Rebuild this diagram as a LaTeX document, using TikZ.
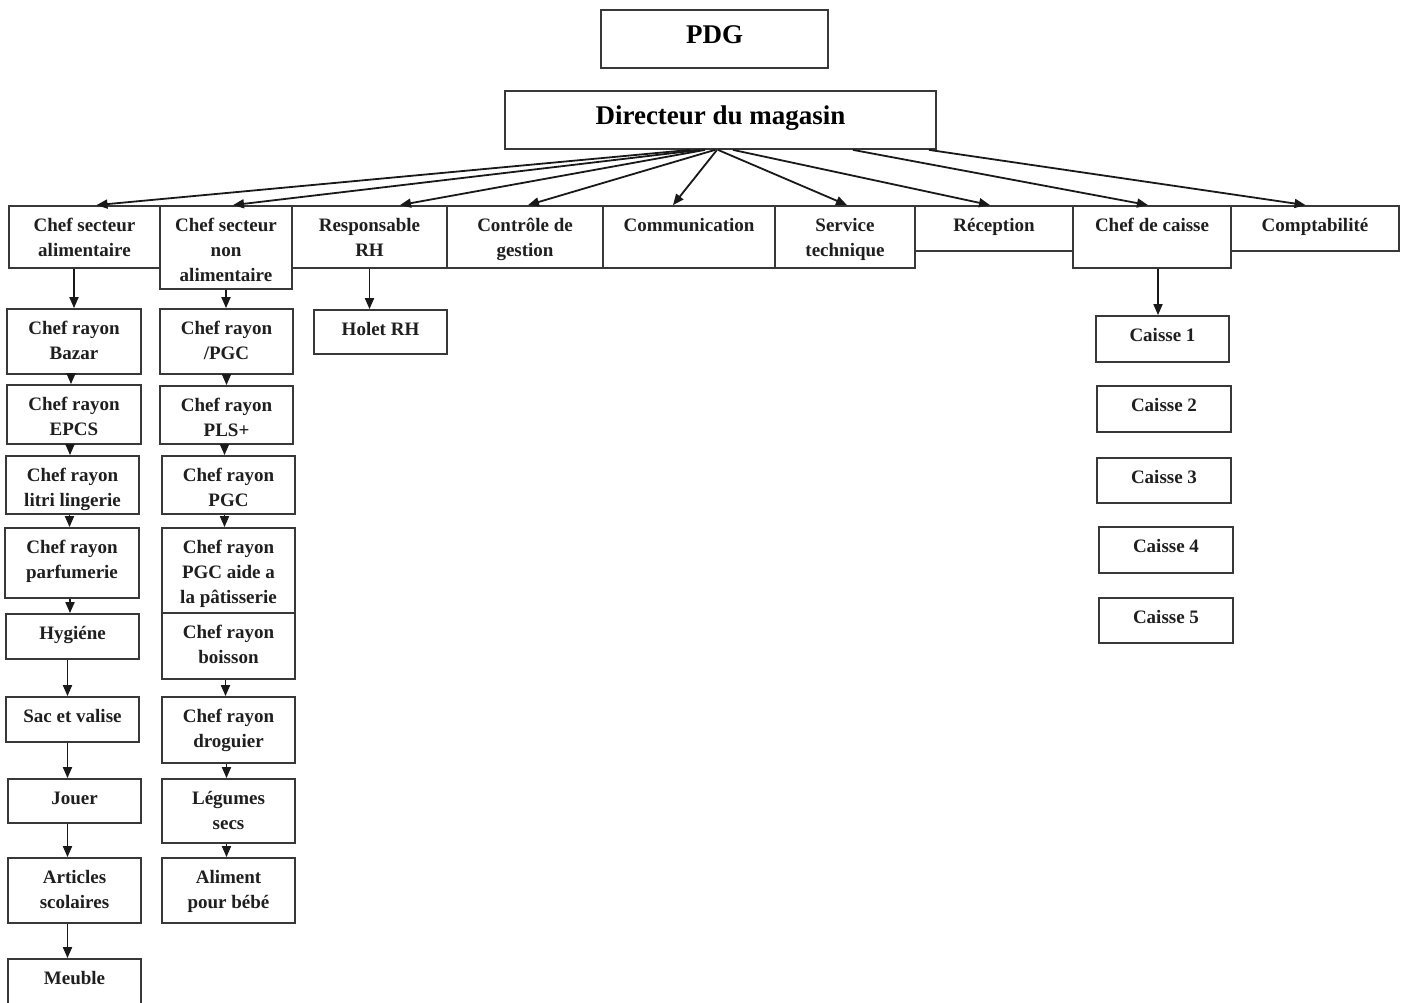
\documentclass[tikz,border=0pt]{standalone}
\usepackage{fontspec}
\setmainfont{Liberation Serif}
\usetikzlibrary{arrows.meta,fit}

\tikzset{
  boxst/.style={draw=black!78, line width=1.8pt, inner sep=0pt},
  lblst/.style={inner sep=0pt, align=center, text=black!88,
    font=\fontsize{19}{25}\selectfont\bfseries},
  bigst/.style={inner sep=0pt, align=center, text=black,
    font=\fontsize{27}{32}\selectfont\bfseries},
  arr/.style={draw=black!90, line width=1.8pt,
    -{Triangle[length=11pt,width=9pt]}},
}

% box from (x1,y1) to (x2,y2), text hanging from its top edge
\newcommand\orgbox[6]{%
  \node[boxst, fit={(#2,#3) (#4,#5)}] (#1) {};
  \node[lblst, anchor=north] (#1-t) at ([yshift=-11.5pt]#1.north) {\rule{0pt}{15pt}#6};
}
\newcommand\bigbox[6]{%
  \node[boxst, fit={(#2,#3) (#4,#5)}] (#1) {};
  \node[bigst, anchor=north] (#1-t) at ([yshift=-12pt]#1.north) {\rule{0pt}{22pt}#6};
}
% vertical arrow from the bottom of #2 down to the top of #3
\newcommand\downarr[3][0pt]{%
  \draw[arr] ([xshift=#1]#2.south) -- ([xshift=#1]#2.south |- #3.north);
}

\begin{document}
\begin{tikzpicture}[x=1pt, y=-1pt]
\clip (0,0) rectangle (1408,1003);
\fill[white] (0,0) rectangle (1408,1003);

% top management
\bigbox{pdg}{601}{10}{828}{68}{PDG}
\bigbox{dir}{505}{91}{936}{149}{Directeur du magasin}

% departments
\orgbox{alim}{9}{206}{160}{268}{Chef secteur\\alimentaire}
\orgbox{nonalim}{160}{206}{292}{289}{Chef secteur\\non\\alimentaire}
\orgbox{rh}{292}{206}{447}{268}{Responsable\\RH}
\orgbox{ctrl}{447}{206}{603}{268}{Contrôle de\\gestion}
\orgbox{comm}{603}{206}{775}{268}{Communication}
\orgbox{tech}{775}{206}{915}{268}{Service\\technique}
\orgbox{recep}{915}{206}{1073}{251}{Réception}
\orgbox{caisse}{1073}{206}{1231}{268}{Chef de caisse}
\orgbox{compta}{1231}{206}{1399}{251}{Comptabilité}

% food sector
\orgbox{bazar}{7}{309}{141}{374}{Chef rayon\\Bazar}
\orgbox{epcs}{7}{385}{141}{444}{Chef rayon\\EPCS}
\orgbox{litri}{6}{456}{139}{514}{Chef rayon\\litri lingerie}
\orgbox{parf}{5}{528}{139}{598}{Chef rayon\\parfumerie}
\orgbox{hyg}{6}{614}{139}{659}{Hygiéne}
\orgbox{sac}{6}{697}{139}{742}{Sac et valise}
\orgbox{jouer}{8}{779}{141}{823}{Jouer}
\orgbox{art}{8}{858}{141}{923}{Articles\\scolaires}
\orgbox{meuble}{8}{959}{141}{1012}{Meuble}

% non-food sector
\orgbox{pgca}{160}{309}{293}{374}{Chef rayon\\/PGC}
\orgbox{pls}{160}{386}{293}{444}{Chef rayon\\PLS+}
\orgbox{pgc}{162}{456}{295}{514}{Chef rayon\\PGC}
\orgbox{pat}{162}{528}{295}{613}{Chef rayon\\PGC aide a\\la pâtisserie}
\orgbox{boisson}{162}{613}{295}{679}{Chef rayon\\boisson}
\orgbox{drog}{162}{697}{295}{763}{Chef rayon\\droguier}
\orgbox{leg}{162}{779}{295}{843}{Légumes\\secs}
\orgbox{bebe}{162}{858}{295}{923}{Aliment\\pour bébé}

% human resources
\orgbox{holet}{314}{310}{447}{354}{Holet RH}

% checkouts
\orgbox{c1}{1096}{316}{1229}{362}{Caisse 1}
\orgbox{c2}{1097}{386}{1231}{432}{Caisse 2}
\orgbox{c3}{1097}{458}{1231}{503}{Caisse 3}
\orgbox{c4}{1099}{527}{1233}{573}{Caisse 4}
\orgbox{c5}{1099}{598}{1233}{643}{Caisse 5}

% store director to departments
\draw[arr] ([xshift=-30.5pt]dir.south) -- ([xshift=12pt]alim.north);
\draw[arr] ([xshift=-20.5pt]dir.south) -- ([xshift=7pt]nonalim.north);
\draw[arr] ([xshift=-15.5pt]dir.south) -- ([xshift=30.5pt]rh.north);
\draw[arr] ([xshift=-5.5pt]dir.south) -- ([xshift=3pt]ctrl.north);
\draw[arr] ([xshift=-3.5pt]dir.south) -- ([xshift=-16pt]comm.north);
\draw[arr] ([xshift=-2.5pt]dir.south) -- ([xshift=2pt]tech.north);
\draw[arr] ([xshift=12.5pt]dir.south) -- ([xshift=-4pt]recep.north);
\draw[arr] ([xshift=132.5pt]dir.south) -- ([xshift=-4pt]caisse.north);
\draw[arr] ([xshift=208.5pt]dir.south) -- ([xshift=-9.5pt]compta.north);

% food sector chain
\draw[arr] (bazar.north |- alim.south) -- (bazar.north);
\downarr[-3pt]{bazar}{epcs}
\downarr[-4pt]{epcs}{litri}
\downarr[-3pt]{litri}{parf}
\downarr[-2pt]{parf}{hyg}
\downarr[-5pt]{hyg}{sac}
\downarr[-5pt]{sac}{jouer}
\downarr[-7pt]{jouer}{art}
\downarr[-7pt]{art}{meuble}

% non-food sector chain
\draw[arr] (nonalim.south) -- (nonalim.south |- pgca.north);
\downarr[0pt]{pgca}{pls}
\downarr[-2pt]{pls}{pgc}
\downarr[-4pt]{pgc}{pat}
\downarr[-3pt]{boisson}{drog}
\downarr[-2pt]{drog}{leg}
\downarr[-2pt]{leg}{bebe}

% single children
\downarr[0pt]{rh}{holet}
\downarr[6pt]{caisse}{c1}
\end{tikzpicture}
\end{document}
